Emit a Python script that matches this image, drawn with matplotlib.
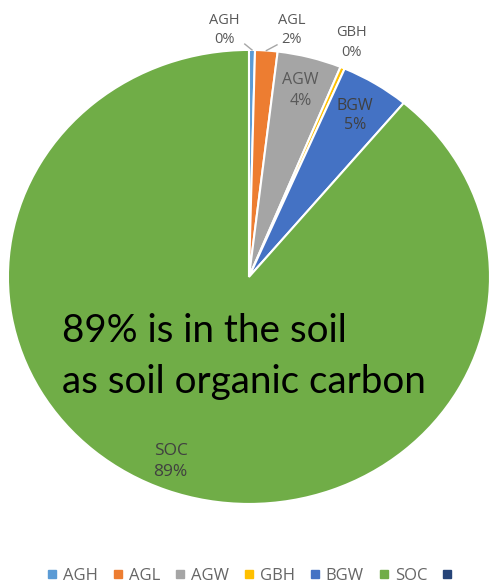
import numpy as np
import matplotlib.pyplot as plt
from matplotlib.lines import Line2D

# carbon pools, share of total (%)
pools = ['AGH', 'AGL', 'AGW', 'GBH', 'BGW', 'SOC']
shares = [0.4, 1.5, 4.3, 0.3, 4.6, 88.9]
colors = ['#5B9BD5', '#ED7D31', '#A5A5A5', '#FFC000', '#4472C4', '#70AD47']
extra_color = '#264478'

plt.rcParams['font.family'] = ['Open Sans', 'DejaVu Sans']

fig = plt.figure(figsize=(4.9, 5.85), dpi=100)
ax = fig.add_axes([0, 0, 1, 1])

wedges, _ = ax.pie(shares, colors=colors, startangle=90, counterclock=False,
                   wedgeprops=dict(edgecolor='white', linewidth=1.5))
ax.set_aspect('auto')
ax.set_xlim(-1.033, 1.0)
ax.set_ylim(-1.357, 1.22)
ax.axis('off')

# label placement: radius factor, dx, dy, font size, line spacing
place = {
    'AGH': (1.0, -0.113, 0.088, 10.5, 1.4),
    'AGL': (1.0, 0.106, 0.091, 10.5, 1.4),
    'AGW': (0.85, 0.0, 0.0, 11.5, 1.4),
    'GBH': (1.1, 0.0, 0.02, 10.5, 1.4),
    'BGW': (0.835, 0.0, 0.0, 11.5, 1.25),
    'SOC': (0.865, -0.03, 0.0, 12.5, 1.4),
}
for w, name, s in zip(wedges, pools, shares):
    mid = np.deg2rad((w.theta1 + w.theta2) / 2)
    r, dx, dy, fs, ls = place[name]
    x = r * np.cos(mid) + dx
    y = r * np.sin(mid) + dy
    col = '#404040' if name in ('BGW', 'SOC') else '#595959'
    ax.text(x, y, f'{name}\n{s:.0f}%', ha='center', va='center',
            fontsize=fs, color=col, linespacing=ls)

# leader lines for the thin top wedges
leaders = {'AGH': (-0.03, 0.026), 'AGL': (0.044, 0.025)}
for w, name in zip(wedges, pools):
    if name in leaders:
        mid = np.deg2rad((w.theta1 + w.theta2) / 2)
        ex, ey = np.cos(mid), np.sin(mid)
        lx, ly = leaders[name]
        ax.plot([ex, ex + lx], [ey, ey + ly], color='#A6A6A6', lw=1)

ax.text(-0.776, -0.35, '89% is in the soil\nas soil organic carbon',
        fontsize=27.8, family=['Lato', 'DejaVu Sans'], color='black',
        ha='left', va='center', linespacing=1.5)

handles = [Line2D([], [], marker='s', ls='', color=c, markersize=6)
           for c in colors + [extra_color]]
fig.legend(handles, pools + [''], loc='center', bbox_to_anchor=(0.515, 1 - 576 / 585),
           ncol=7, frameon=False, fontsize=12, handlelength=0.7, handletextpad=0.3,
           columnspacing=0.85, labelcolor='#666666', borderaxespad=0)

fig.savefig('out.png', dpi=100)
